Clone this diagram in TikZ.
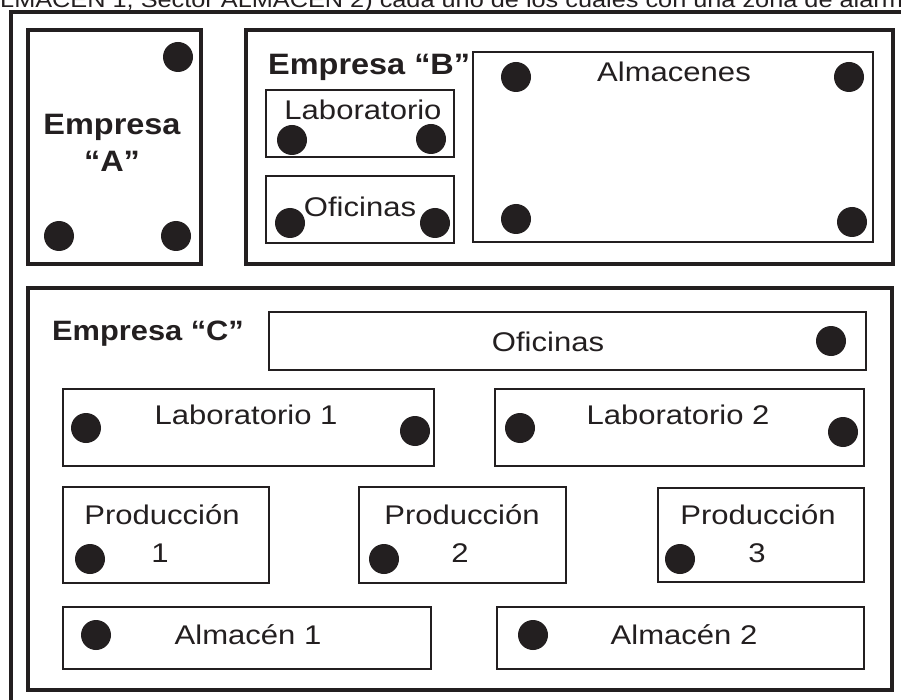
\documentclass[tikz,border=0pt]{standalone}
\usepackage{fontspec}
\setmainfont{Liberation Sans}
\newfontfamily\regf[FakeStretch=1.15]{Liberation Sans}
\newfontfamily\bldf[FakeStretch=1.1]{Liberation Sans Bold}
\usetikzlibrary{fit}
\definecolor{ink}{RGB}{35,31,32}
\tikzset{
 thickbox/.style={draw=ink, line width=4.5pt, inner sep=0pt},
 thinbox/.style={draw=ink, line width=2.2pt, inner sep=0pt},
 dot/.style={circle, fill=ink, minimum size=30pt, inner sep=0pt},
 lab/.style={inner sep=0pt, anchor=base, text=ink, font=\regf\fontsize{27}{33}\selectfont},
 blab/.style={inner sep=0pt, anchor=base, text=ink, font=\bldf\fontsize{29.5}{35}\selectfont},
}
\begin{document}
\begin{tikzpicture}[x=1pt,y=-1pt]
\useasboundingbox (0,0) rectangle (901,700);
\clip (0,0) rectangle (901,700);
\fill[white] (0,0) rectangle (901,700);
% header (cut off at the top edge, as in the reference)
\node[anchor=base west, inner sep=0pt, text=ink, font=\regf\fontsize{22}{26}\selectfont] (hdr) at (0,8) {LMACEN 1, Sector ALMACEN 2) cada uno de los cuales con una zona de alarma};
% outer frame
\node[thickbox, fit={(11,12) (930,730)}] (outer) {};
% Empresa A
\node[thickbox, fit={(28,30) (201,264)}] (A) {};
\node[blab] (Atxt1) at (112,135) {Empresa};
\node[blab] (Atxt2) at (112,172) {“A”};
\node[dot] (A1) at (178,57) {};
\node[dot] (A2) at (59,236) {};
\node[dot] (A3) at (176,236) {};
% Empresa B
\node[thickbox, fit={(246,30) (893,264)}] (B) {};
\node[blab, anchor=base west] (Btxt) at (268,75) {Empresa “B”};
\node[thinbox, fit={(266,90) (454,157)}] (Blab) {};
\node[lab] (Blabtxt) at (363,120) {Laboratorio};
\node[dot] (Bl1) at (292,140) {};
\node[dot] (Bl2) at (431,139) {};
\node[thinbox, fit={(266,176) (454,243)}] (Bof) {};
\node[lab] (Boftxt) at (360,217) {Oficinas};
\node[dot] (Bo1) at (290,223) {};
\node[dot] (Bo2) at (435,223) {};
\node[thinbox, fit={(473,52) (873,242)}] (Balm) {};
\node[lab] (Balmtxt) at (674,82) {Almacenes};
\node[dot] (Ba1) at (516,77) {};
\node[dot] (Ba2) at (849,77) {};
\node[dot] (Ba3) at (516,219) {};
\node[dot] (Ba4) at (852,222) {};
% Empresa C
\node[thickbox, fit={(28,288) (892,690)}] (C) {};
\node[blab, anchor=base west, font=\bldf\fontsize{28}{34}\selectfont] (Ctxt) at (52,340) {Empresa “C”};
\node[thinbox, fit={(269,312) (866,370)}] (Cof) {};
\node[lab] (Coftxt) at (548,351) {Oficinas};
\node[dot] (Co1) at (831,341) {};
\node[thinbox, fit={(63,389) (434,466)}] (Cl1) {};
\node[lab] (Cl1txt) at (246,424) {Laboratorio 1};
\node[dot] (Cl1a) at (86,428) {};
\node[dot] (Cl1b) at (415,431) {};
\node[thinbox, fit={(495,389) (864,466)}] (Cl2) {};
\node[lab] (Cl2txt) at (678,424) {Laboratorio 2};
\node[dot] (Cl2a) at (520,428) {};
\node[dot] (Cl2b) at (843,432) {};
\node[thinbox, fit={(63,487) (269,583)}] (P1) {};
\node[lab] (P1t) at (162,524) {Producción};
\node[lab] (P1n) at (160,562) {1};
\node[dot] (P1d) at (90,559) {};
\node[thinbox, fit={(359,487) (566,583)}] (P2) {};
\node[lab] (P2t) at (462,524) {Producción};
\node[lab] (P2n) at (460,562) {2};
\node[dot] (P2d) at (384,559) {};
\node[thinbox, fit={(658,488) (864,582)}] (P3) {};
\node[lab] (P3t) at (758,524) {Producción};
\node[lab] (P3n) at (757,562) {3};
\node[dot] (P3d) at (680,559) {};
\node[thinbox, fit={(63,607) (431,669)}] (Al1) {};
\node[lab] (Al1t) at (248,644) {Almacén 1};
\node[dot] (Al1d) at (96,635) {};
\node[thinbox, fit={(497,607) (864,669)}] (Al2) {};
\node[lab] (Al2t) at (684,644) {Almacén 2};
\node[dot] (Al2d) at (533,635) {};
\end{tikzpicture}
\end{document}
